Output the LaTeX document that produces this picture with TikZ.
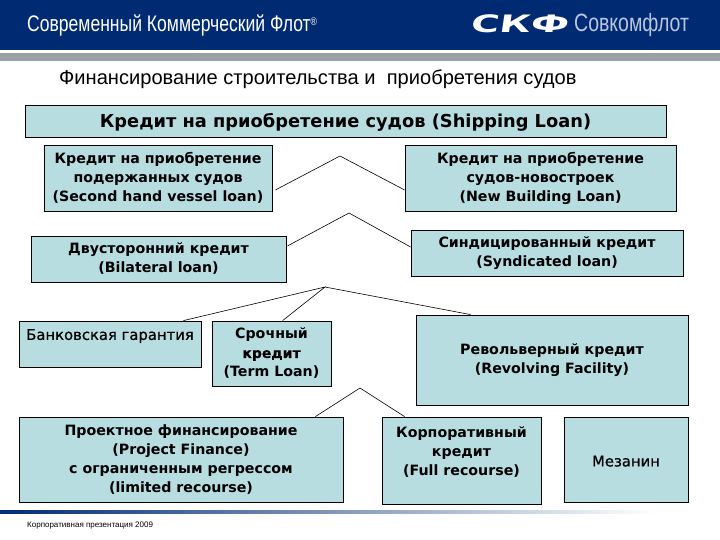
\documentclass[tikz,border=0pt]{standalone}
\usepackage{fontspec}
\setmainfont{DejaVu Sans}
\newfontfamily\arialf{Liberation Sans}
\newfontfamily\narrowf[FakeStretch=0.78]{Liberation Sans}
\newfontfamily\wideb[FakeStretch=1.6,FakeSlant=0.15]{DejaVu Sans Bold}
\newfontfamily\semib[FakeBold=0.6]{DejaVu Sans}
\definecolor{navy}{HTML}{002B73}
\definecolor{band}{HTML}{9AA0A3}
\definecolor{boxfill}{HTML}{B7DDE1}
\definecolor{logogray}{HTML}{B9C5DC}
\tikzset{
  bx/.style={draw=black,line width=0.8pt,fill=boxfill,inner sep=0pt,align=center,font=\fontsize{14.2}{19}\selectfont\bfseries,execute at begin node={\rule{0pt}{14pt}}},
  thinbx/.style={bx,font=\fontsize{14.8}{19}\semib,execute at begin node={}},
  con/.style={draw=black,line width=0.6pt},
}
\begin{document}
\begin{tikzpicture}[x=1pt,y=-1pt]
\useasboundingbox (0,0) rectangle (720,540);
\fill[white] (0,0) rectangle (720,540);
\fill[navy] (0,0) rectangle (720,50);
\fill[band] (0,53) rectangle (720,61);
\shade[left color=navy,middle color=navy!62!white,right color=white] (0,510) rectangle (655,513);
\node[anchor=west,inner sep=0pt,text=white,font=\fontsize{22.5}{24}\narrowf] (ht) at (27,25) {Современный Коммерческий Флот\raisebox{6pt}{\fontsize{11}{11}\selectfont ®}};
\node[anchor=west,inner sep=0pt,text=white,font=\fontsize{24}{26}\wideb] (lg) at (470,24) {СКФ};
\node[anchor=west,inner sep=0pt,text=logogray,font=\fontsize{25}{27}\narrowf] (lt) at (574,25) {Совкомфлот};
\node[anchor=west,inner sep=0pt,font=\fontsize{20.1}{22}\arialf] (hd) at (59,79) {Финансирование строительства и\ \ приобретения судов};
\node[anchor=west,inner sep=0pt,font=\fontsize{8}{9}\arialf] (ft) at (27,526) {Корпоративная презентация 2009};

\node[bx,font=\fontsize{17.8}{19}\selectfont\bfseries,execute at begin node={\rule{0pt}{17pt}},minimum width=641pt,minimum height=32pt] (main) at (345.5,121) {Кредит на приобретение судов (Shipping Loan)};
\node[bx,minimum width=228pt,minimum height=66pt] (sh) at (158,178) {Кредит на приобретение\\подержанных судов\\(Second hand vessel loan)};
\node[bx,minimum width=271pt,minimum height=66pt] (nb) at (540.5,178) {Кредит на приобретение\\судов-новостроек\\(New Building Loan)};
\node[bx,minimum width=255pt,minimum height=46pt] (bi) at (158.5,259) {Двусторонний кредит\\(Bilateral loan)};
\node[bx,minimum width=272pt,minimum height=46pt] (sy) at (547,253) {Синдицированный кредит\\(Syndicated loan)};
\node[thinbx,minimum width=182pt,minimum height=46pt] (bg) at (110,344) {Банковская гарантия\\\mbox{}};
\node[bx,minimum width=119pt,minimum height=65pt] (tl) at (271.5,353.5) {Срочный\\{\fontsize{14}{19}\semib кредит}\\(Term Loan)};
\node[bx,minimum width=272pt,minimum height=90pt] (rv) at (552,360) {Револьверный кредит\\(Revolving Facility)};
\node[bx,minimum width=324pt,minimum height=85pt] (pf) at (181,459.5) {Проектное финансирование\\(Project Finance)\\с ограниченным регрессом\\(limited recourse)};
\node[bx,minimum width=159pt,minimum height=87pt] (cl) at (461.5,460.5) {Корпоративный\\кредит\\(Full recourse)\\\mbox{}};
\node[thinbx,minimum width=124pt,minimum height=85pt] (mz) at (626,459.5) {Мезанин};

\coordinate (a1) at (340,156);
\coordinate (a2) at (349,213);
\coordinate (a3) at (325,287);
\coordinate (a4) at (360,388);
\draw[con] ([shift={(3,12)}]sh.east) -- (a1) -- ([shift={(0,12)}]nb.west);
\draw[con] ([shift={(1,-13)}]bi.east) -- (a2) -- ([shift={(0,-6)}]sy.west);
\draw[con] ([xshift=-18]bg.north east) -- (a3) -- ([xshift=71]tl.north west);
\draw[con] (a3) -- ([xshift=55]rv.north west);
\draw[con] ([xshift=-28]pf.north east) -- (a4) -- ([xshift=23]cl.north west);
\end{tikzpicture}
\end{document}
